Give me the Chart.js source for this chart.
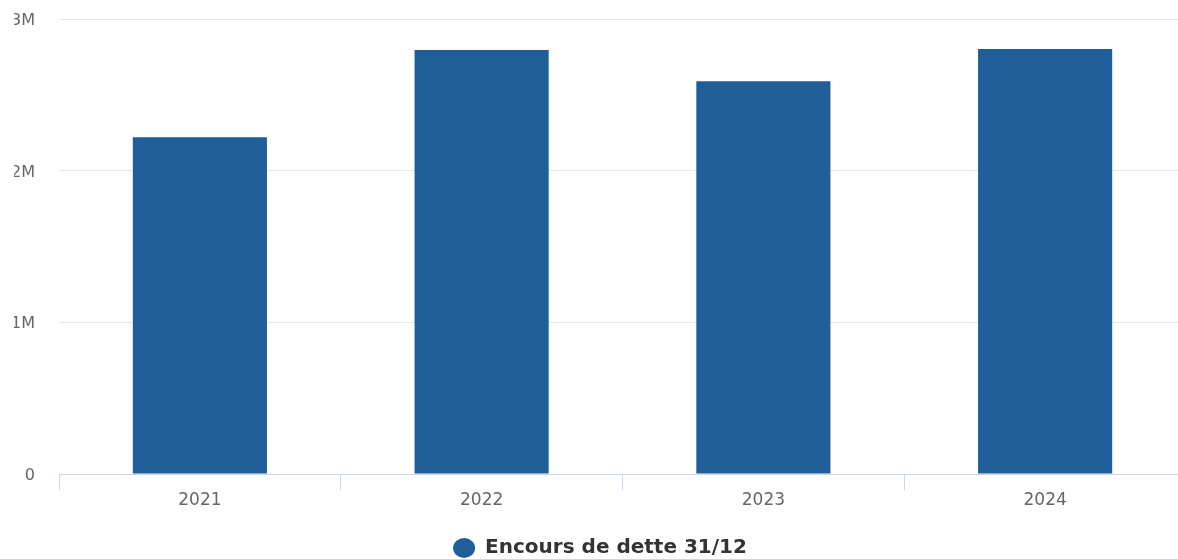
<!DOCTYPE html>
<html>
<head>
<meta charset="utf-8">
<script src="https://cdn.jsdelivr.net/npm/chart.js@4/dist/chart.umd.min.js"></script>
<style>
html,body{margin:0;padding:0;background:#fff;}
#wrap{width:1178px;height:559px;position:relative;overflow:hidden;}
</style>
</head>
<body>
<div id="wrap"><canvas id="c" width="1200" height="559"></canvas></div>
<script>
const categories = ['2021', '2022', '2023', '2024'];
const seriesName = 'Encours de dette 31/12';
const debtValues = [2220000, 2795000, 2590000, 2803000];
const yTickValues = [0, 1000000, 2000000, 3000000];
const yTickLabels = ['0', '1M', '2M', '3M'];

const FONT = "'DejaVu Sans', sans-serif";
const ctx = document.getElementById('c').getContext('2d');
new Chart(ctx, {
  type: 'bar',
  data: {
    labels: categories,
    datasets: [{
      label: seriesName,
      data: debtValues,
      backgroundColor: '#1f5e99',
      borderWidth: 0,
      barPercentage: 0.476,
      categoryPercentage: 1.0
    }]
  },
  options: {
    responsive: false,
    animation: false,
    layout: { padding: { top: 19, right: 14, left: 14, bottom: -9 } },
    plugins: {
      tooltip: { enabled: false },
      legend: {
        position: 'bottom',
        labels: {
          usePointStyle: true,
          pointStyle: 'circle',
          boxWidth: 14,
          boxHeight: 14,
          pointStyleWidth: 22,
          padding: 4,
          color: '#333333',
          font: { family: FONT, size: 20, weight: 'bold' }
        }
      }
    },
    scales: {
      x: {
        offset: true,
        grid: {
          offset: true,
          drawOnChartArea: false,
          drawTicks: true,
          tickLength: 16,
          color: '#ccd6eb'
        },
        border: { color: '#ccd6eb', width: 1 },
        ticks: {
          color: '#666666',
          padding: 0,
          font: { family: FONT, size: 17 }
        },
        afterFit: (s) => { s.height = 60; s.paddingLeft = 0; s.paddingRight = 0; }
      },
      y: {
        min: 0,
        max: 3000000,
        afterBuildTicks: (s) => { s.ticks = yTickValues.map(v => ({ value: v })); },
        grid: { color: '#e6e6e6', drawTicks: false },
        border: { display: false },
        ticks: {
          color: '#666666',
          padding: 24,
          labelOffset: 2,
          font: { family: FONT, size: 16 },
          callback: (v) => yTickLabels[yTickValues.indexOf(v)]
        },
        afterFit: (s) => { s.width = 45; s.paddingTop = 0; s.paddingBottom = 0; }
      }
    }
  }
});
</script>
</body>
</html>
